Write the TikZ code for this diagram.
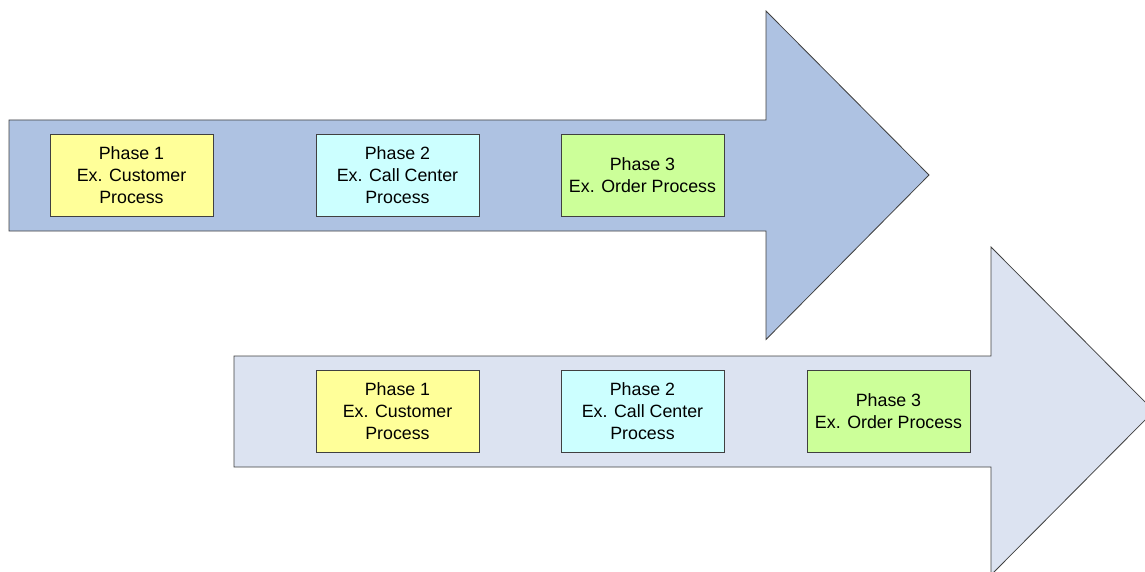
\documentclass[tikz,border=0pt]{standalone}
\usepackage{fontspec}
\setmainfont{Liberation Sans}
\definecolor{arrowA}{HTML}{AEC2E2}
\definecolor{arrowB}{HTML}{DCE3F1}
\definecolor{boxY}{HTML}{FFFF99}
\definecolor{boxC}{HTML}{CCFFFF}
\definecolor{boxG}{HTML}{CCFF99}
\definecolor{edge}{HTML}{404040}
\begin{document}
\begin{tikzpicture}[x=1pt,y=-1pt,
  bigarrow/.style={draw=edge,line width=0.8pt,line join=miter},
  phase/.style={draw=edge,line width=0.8pt,minimum width=163pt,minimum height=82pt,
    inner sep=0pt,align=center,font=\fontsize{17.8}{22}\selectfont}]
\useasboundingbox (0,0) rectangle (1145,572);
\clip (0,0) rectangle (1145,572);
% arrow 1
\draw[bigarrow,fill=arrowA] (9,120) -- (766,120) -- (766,11) -- (929,175) -- (766,339.5) -- (766,231) -- (9,231) -- cycle;
% arrow 2
\draw[bigarrow,fill=arrowB] (234,356) -- (991,356) -- (991,247) -- (1154,411) -- (991,575) -- (991,467) -- (234,467) -- cycle;
% boxes arrow 1
\node[phase,fill=boxY] (a1) at (131.5,175.5) {Phase 1\\Ex. Customer\\Process};
\node[phase,fill=boxC] (a2) at (397.5,175.5) {Phase 2\\Ex. Call Center\\Process};
\node[phase,fill=boxG] (a3) at (642.5,175.5) {Phase 3\\Ex. Order Process};
% boxes arrow 2
\node[phase,fill=boxY] (b1) at (397.5,411.5) {Phase 1\\Ex. Customer\\Process};
\node[phase,fill=boxC] (b2) at (642.5,411.5) {Phase 2\\Ex. Call Center\\Process};
\node[phase,fill=boxG] (b3) at (888.5,411.5) {Phase 3\\Ex. Order Process};
\end{tikzpicture}
\end{document}
